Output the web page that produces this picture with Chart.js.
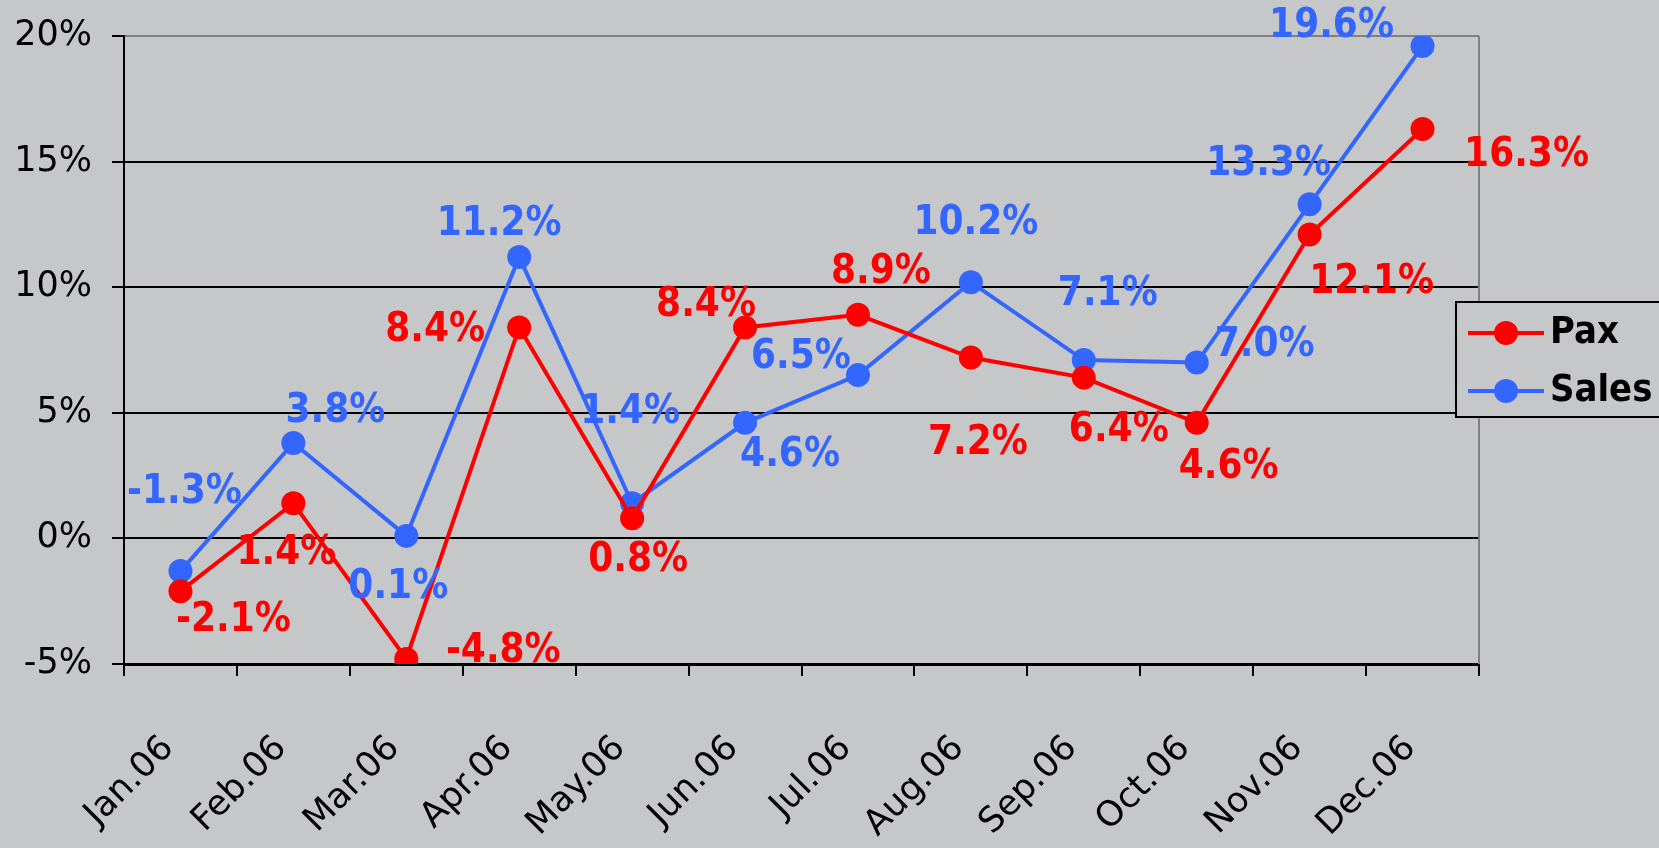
<!DOCTYPE html>
<html>
<head>
<meta charset="utf-8">
<script src="https://cdn.jsdelivr.net/npm/chart.js@4/dist/chart.umd.min.js"></script>
<style>
  html, body { margin: 0; padding: 0; background: #c6c7c9; }
  #wrap { width: 1659px; height: 848px; }
</style>
</head>
<body>
<div id="wrap"><canvas id="chart" width="1659" height="848"></canvas></div>
<script>
// ===================== DATA =====================
const months = ["Jan.06", "Feb.06", "Mar.06", "Apr.06", "May.06", "Jun.06",
                "Jul.06", "Aug.06", "Sep.06", "Oct.06", "Nov.06", "Dec.06"];
const pax   = [-2.1, 1.4, -4.8, 8.4, 0.8, 8.4, 8.9, 7.2, 6.4, 4.6, 12.1, 16.3];
const sales = [-1.3, 3.8, 0.1, 11.2, 1.4, 4.6, 6.5, 10.2, 7.1, 7.0, 13.3, 19.6];
const yTicks = [-5, 0, 5, 10, 15, 20];

// label placement (pixels from the point), like the hand-moved Excel labels
const paxLabelPos = [[53,29],[-7,50],[97,-8],[-84,3],[6,42],[-39,-22],
                     [23,-43],[7,86],[35,53],[32,44],[62,48],[104,26]];
const salesLabelPos = [[4,-79],[42,-32],[-8,51],[-20,-33],[-2,-91],[45,32],
                       [-57,-18],[5,-59],[24,-66],[68,-17],[-41,-40],[-91,-20]];

const RED = "#ff0000";
const BLUE = "#3366ff";
const BG = "#c6c7c9";

// ===================== PLUGINS =====================
// excel text here is a bit taller than it is wide, so stretch it a little
function tallText(ctx, txt, x, y, sy) {
  ctx.save();
  ctx.translate(x, y);
  ctx.scale(1, sy);
  ctx.fillText(txt, 0, 0);
  ctx.restore();
}

const pointLabels = {
  id: "pointLabels",
  afterDatasetsDraw(chart) {
    const ctx = chart.ctx;
    ctx.save();
    ctx.font = "bold 36px 'DejaVu Sans', Verdana, sans-serif";
    ctx.textAlign = "center";
    ctx.textBaseline = "middle";
    chart.data.datasets.forEach((ds, i) => {
      const meta = chart.getDatasetMeta(i);
      const pos = ds.labelPos;
      ctx.fillStyle = ds.borderColor;
      meta.data.forEach((pt, j) => {
        tallText(ctx, ds.data[j].toFixed(1) + "%", pt.x + pos[j][0], pt.y + pos[j][1], 1.15);
      });
    });
    ctx.restore();
  }
};

const frame = {
  id: "frame",
  beforeDatasetsDraw(chart) {
    const { ctx, chartArea: a } = chart;
    ctx.save();
    ctx.strokeStyle = "#808080";
    ctx.lineWidth = 2;
    ctx.beginPath();
    ctx.moveTo(a.right, a.top);
    ctx.lineTo(a.right, a.bottom);
    ctx.stroke();
    ctx.restore();
  }
};

const boxLegend = {
  id: "boxLegend",
  afterDraw(chart) {
    const ctx = chart.ctx;
    const x = 1456, y = 302, w = 220, h = 115;
    ctx.save();
    ctx.fillStyle = BG;
    ctx.fillRect(x, y, w, h);
    ctx.strokeStyle = "#000";
    ctx.lineWidth = 2;
    ctx.strokeRect(x, y, w, h);
    ctx.font = "bold 34px 'DejaVu Sans', Verdana, sans-serif";
    ctx.textBaseline = "middle";
    chart.data.datasets.forEach((ds, i) => {
      const cy = y + 31 + i * 58;
      ctx.strokeStyle = ds.borderColor;
      ctx.lineWidth = 4;
      ctx.beginPath();
      ctx.moveTo(x + 12, cy);
      ctx.lineTo(x + 88, cy);
      ctx.stroke();
      ctx.fillStyle = ds.borderColor;
      ctx.beginPath();
      ctx.arc(x + 50, cy, 12, 0, Math.PI * 2);
      ctx.fill();
      ctx.fillStyle = "#000";
      tallText(ctx, ds.label, x + 94, cy, 1.12);
    });
    ctx.restore();
  }
};

// ===================== CHART =====================
Chart.defaults.font.family = "'DejaVu Sans', Verdana, sans-serif";
Chart.defaults.color = "#000";

new Chart(document.getElementById("chart"), {
  type: "line",
  data: {
    labels: months,
    datasets: [
      { label: "Pax", data: pax, borderColor: RED, backgroundColor: RED,
        borderWidth: 4, pointRadius: 12, pointHoverRadius: 12,
        pointBackgroundColor: RED, pointBorderWidth: 0, labelPos: paxLabelPos },
      { label: "Sales", data: sales, borderColor: BLUE, backgroundColor: BLUE,
        borderWidth: 4, pointRadius: 12, pointHoverRadius: 12,
        pointBackgroundColor: BLUE, pointBorderWidth: 0, labelPos: salesLabelPos }
    ]
  },
  options: {
    responsive: false,
    animation: false,
    layout: { padding: { top: 36, right: 180, left: 0, bottom: 0 } },
    plugins: { legend: { display: false }, tooltip: { enabled: false } },
    scales: {
      x: {
        offset: true,
        grid: { offset: true, drawOnChartArea: false, drawTicks: true,
                tickLength: 12, color: "#000", lineWidth: 2 },
        border: { color: "#000", width: 3 },
        ticks: { font: { size: 35 }, minRotation: 45, maxRotation: 45,
                 padding: 52, labelOffset: -12, color: "#000" },
        afterFit(s) { s.height = 848 - 664; }
      },
      y: {
        min: -5, max: 20,
        afterBuildTicks(s) { s.ticks = yTicks.map(v => ({ value: v })); },
        grid: { color: c => (c.tick && c.tick.value === 20 ? "#808080" : "#000"),
                tickColor: "#000", lineWidth: 2, tickLength: 12 },
        border: { color: "#000", width: 2 },
        ticks: { font: { size: 35 }, padding: 20, color: "#000",
                 callback: v => v + "%" },
        afterFit(s) { s.width = 124; s.paddingTop = 0; s.paddingBottom = 0; }
      }
    }
  },
  plugins: [frame, pointLabels, boxLegend]
});
</script>
</body>
</html>
